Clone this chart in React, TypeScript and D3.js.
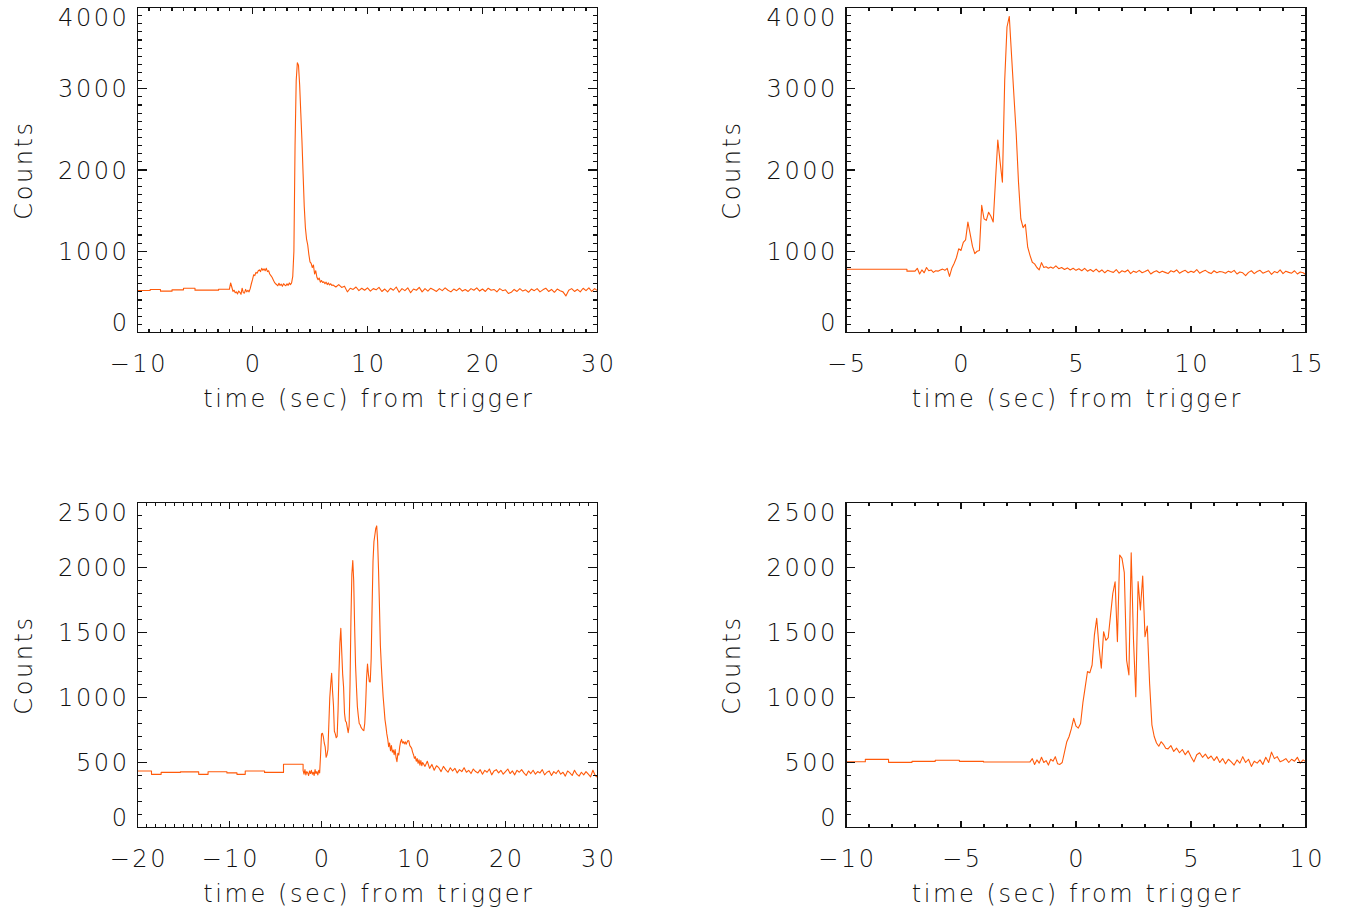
import React from "react";
import * as d3 from "d3";

const LINE_COLOR = "#ff5a0a";
const FONT = "'DejaVu Sans', 'Liberation Sans', sans-serif";

// ---------- Panel 1 (top-left) ----------
const p1XTicks = [-10, 0, 10, 20, 30];
const p1YTicks = [0, 1000, 2000, 3000, 4000];
const p1StepTimes = [-10, -8.9, -8.0, -7.0, -6.0, -5.0, -2.95, -2.0];
const p1StepCounts = [517, 530, 509, 525, 545, 521, 533];
const p1FineStart = -2.0;
const p1FineDt = 0.1;
const p1Fine = [
  540, 610, 560, 505, 520, 490, 500, 475, 510, 495,
  470, 545, 490, 485, 530, 500, 520, 500, 540, 600,
  650, 710, 700, 740, 730, 760, 770, 750, 790, 765,
  785, 760, 790, 750, 760, 720, 700, 680, 650, 620,
  600, 590, 575, 605, 580, 595, 570, 600, 585, 575,
  600, 580, 610, 590, 610, 690, 1000, 2300, 3100, 3320,
  3290, 3050, 2700, 2360, 1950, 1550, 1290, 1150, 1080, 960,
  870, 850, 800, 830, 720, 760, 680, 650, 670, 620,
  640, 615, 625, 600, 620, 590, 610, 585, 600, 580,
];
const p1TailDt = 0.25;
const p1Tail = [
  585, 560, 590, 555, 570, 500, 545, 530, 560, 515, 545, 520,
  550, 510, 540, 525, 555, 505, 535, 500, 545, 520, 560, 495,
  540, 515, 550, 490, 535, 520, 555, 500, 540, 510, 545, 525,
  505, 540, 515, 550, 520, 500, 535, 515, 545, 510, 530, 505,
  540, 520, 550, 510, 535, 505, 545, 520, 530, 500, 540, 515,
  525, 480, 495, 530, 505, 540, 510, 525, 495, 535, 515, 540,
  500, 525, 545, 505, 530, 495, 535, 515, 500, 450, 520, 540,
  505, 530, 500, 545, 515, 550, 505, 540, 515,
];

// ---------- Panel 2 (top-right) ----------
const p2XTicks = [-5, 0, 5, 10, 15];
const p2YTicks = [0, 1000, 2000, 3000, 4000];
const p2StepTimes = [-5, -2.35, -2.0];
const p2StepCounts = [779, 755];
const p2FineStart = -2.0;
const p2FineDt = 0.1;
const p2Fine = [
  755, 790, 720, 770, 735, 800, 760, 770, 740, 760,
  755, 770, 780, 765, 790, 690, 790, 850, 920, 1030,
  1010, 1110, 1140, 1360, 1210, 1060, 970, 1000, 1010, 1565,
  1400, 1380, 1480, 1430, 1360, 1870, 2370, 2100, 1850, 3100,
  3760, 3890, 3400, 2920, 2450, 1850, 1400, 1290, 1330, 1050,
  950, 865, 845, 800, 770, 860, 800, 810, 790, 805,
];
const p2TailDt = 0.125;
const p2Tail = [
  790, 820, 785, 800, 775, 795, 770, 790,
  765, 785, 760, 790, 755, 775, 750, 780,
  745, 770, 735, 765, 750, 740, 775, 730,
  760, 745, 770, 725, 755, 740, 765, 735,
  750, 770, 720, 745, 760, 735, 755, 740,
  725, 760, 745, 770, 730, 750, 765, 735,
  755, 740, 775, 730, 750, 765, 740, 725,
  760, 735, 750, 745, 730, 755, 740, 765,
  720, 745, 735, 700, 740, 760, 725, 750,
  765, 730, 745, 760, 715, 750, 735, 770,
  725, 755, 740, 730, 760, 720, 745, 735,
  710,
];

// ---------- Panel 3 (bottom-left) ----------
const p3XTicks = [-20, -10, 0, 10, 20, 30];
const p3YTicks = [0, 500, 1000, 1500, 2000, 2500];
const p3StepTimes = [-20, -18.48, -17.43, -15.34, -13.35, -12.33, -10.28, -9.19, -8.29, -6.19, -4.13, -2.0];
const p3StepCounts = [435, 409, 424, 428, 409, 429, 420, 409, 435, 424, 486];
const p3FineStart = -2.0;
const p3FineDt = 0.1;
const p3Fine = [
  440, 410, 445, 405, 430, 420, 400, 435, 415, 440,
  410, 425, 400, 445, 415, 430, 405, 440, 420, 560,
  720, 725, 698, 650, 620, 540, 560, 600, 800, 1000,
  1100, 1186, 1050, 940, 740, 720, 690, 700, 900, 1200,
  1420, 1532, 1350, 1180, 1080, 880, 820, 810, 770, 730,
  780, 1100, 1600, 1950, 2053, 1900, 1550, 1250, 1080, 930,
  860, 800, 790, 770, 760, 750, 745, 800, 950, 1150,
  1258, 1180, 1122, 1120, 1300, 1700, 2050, 2199, 2250, 2301,
  2320, 2200, 1981, 1700, 1400, 1250, 1120, 1006, 920, 830,
  780, 720, 680, 622, 650, 590, 630, 580, 596, 560,
  600, 540, 506, 570, 558, 620, 660, 678, 650, 660,
  643, 660, 640, 655, 670, 665, 630, 620, 609, 580,
  560, 532, 545, 510, 530, 494, 520, 480, 515, 475,
];
const p3TailDt = 0.25;
const p3Tail = [
  500, 470, 510, 455, 485, 440, 475, 460, 430, 470, 445, 425,
  460, 435, 455, 420, 445, 430, 460, 425, 440, 415, 450, 430,
  420, 445, 410, 440, 425, 450, 405, 435, 445, 420, 440, 410,
  430, 450, 415, 435, 405, 440, 425, 445, 420, 400, 435, 415,
  440, 410, 430, 420, 445, 405, 425, 435, 400, 430, 415, 440,
  410, 425, 395, 435, 420, 400, 440, 410, 395, 425, 405, 430,
  410, 390, 440, 400, 385,
];

// ---------- Panel 4 (bottom-right) ----------
const p4XTicks = [-10, -5, 0, 5, 10];
const p4YTicks = [0, 500, 1000, 1500, 2000, 2500];
const p4StepTimes = [-10, -9.16, -8.15, -7.13, -6.12, -5.07, -4.02, -2.0];
const p4StepCounts = [506, 524, 501, 509, 517, 509, 504];
const p4FineStart = -2.0;
const p4FineDt = 0.1;
const p4Fine = [
  505, 530, 485, 520, 495, 540, 500, 515, 480, 525,
  510, 545, 490, 485, 500, 580, 660, 700, 760, 840,
  780, 765, 800, 960, 1080, 1200, 1190, 1250, 1480, 1609,
  1390, 1225, 1506, 1440, 1460, 1630, 1800, 1890, 1430, 2096,
  2070, 1960, 1288, 1173, 2114, 1442, 1006, 1891, 1673, 1935,
  1468, 1550, 1109, 790, 700, 650, 625, 660, 640, 610,
];
const p4TailDt = 0.125;
const p4Tail = [
  605, 630, 585, 610, 575, 600, 560, 590,
  545, 505, 560, 575, 540, 565, 530, 550,
  515, 545, 500, 530, 490, 525, 505, 480,
  520, 495, 545, 500, 525, 470, 510, 495,
  520, 485, 540, 500, 580, 530, 545, 505,
  515, 530, 500, 525, 510, 540, 495, 520,
  505,
];

const X_TITLE = "time (sec) from trigger";
const Y_TITLE = "Counts";

type PanelCfg = {
  left: number; top: number; width: number; height: number;
  xTicks: number[]; xMinor: number;
  yTicks: number[]; yMinor: number;
  stepTimes: number[]; stepCounts: number[];
  fineStart: number; fineDt: number; fine: number[];
  tailDt: number; tail: number[];
};

const PW = 460;
const PH = 325;
const COL = [137.5, 846];
const ROW = [7.5, 502.5];

const panels: PanelCfg[] = [
  { left: COL[0], top: ROW[0], width: PW, height: PH, xTicks: p1XTicks, xMinor: 1, yTicks: p1YTicks, yMinor: 100,
    stepTimes: p1StepTimes, stepCounts: p1StepCounts, fineStart: p1FineStart, fineDt: p1FineDt, fine: p1Fine, tailDt: p1TailDt, tail: p1Tail },
  { left: COL[1], top: ROW[0], width: PW, height: PH, xTicks: p2XTicks, xMinor: 1, yTicks: p2YTicks, yMinor: 100,
    stepTimes: p2StepTimes, stepCounts: p2StepCounts, fineStart: p2FineStart, fineDt: p2FineDt, fine: p2Fine, tailDt: p2TailDt, tail: p2Tail },
  { left: COL[0], top: ROW[1], width: PW, height: PH, xTicks: p3XTicks, xMinor: 1, yTicks: p3YTicks, yMinor: 100,
    stepTimes: p3StepTimes, stepCounts: p3StepCounts, fineStart: p3FineStart, fineDt: p3FineDt, fine: p3Fine, tailDt: p3TailDt, tail: p3Tail },
  { left: COL[1], top: ROW[1], width: PW, height: PH, xTicks: p4XTicks, xMinor: 1, yTicks: p4YTicks, yMinor: 100,
    stepTimes: p4StepTimes, stepCounts: p4StepCounts, fineStart: p4FineStart, fineDt: p4FineDt, fine: p4Fine, tailDt: p4TailDt, tail: p4Tail },
];

function buildSeries(c: PanelCfg): [number, number][] {
  const pts: [number, number][] = [];
  for (let i = 0; i < c.stepCounts.length; i++) {
    pts.push([c.stepTimes[i], c.stepCounts[i]]);
    pts.push([c.stepTimes[i + 1], c.stepCounts[i]]);
  }
  c.fine.forEach((v, i) => pts.push([c.fineStart + i * c.fineDt, v]));
  const tailStart = c.fineStart + c.fine.length * c.fineDt;
  c.tail.forEach((v, i) => pts.push([tailStart + i * c.tailDt, v]));
  return pts;
}

const fmt = (n: number) => (n < 0 ? "\u2212" + Math.abs(n) : String(n));

const textStyle: React.CSSProperties = {
  fontFamily: FONT,
  fontWeight: 200,
  fontSize: 24,
  letterSpacing: "2.6px",
};

function Panel({ c }: { c: PanelCfg }) {
  const x0 = c.xTicks[0];
  const x1 = c.xTicks[c.xTicks.length - 1];
  const y0 = c.yTicks[0];
  const y1 = c.yTicks[c.yTicks.length - 1];
  const x = d3.scaleLinear().domain([x0, x1]).range([c.left, c.left + c.width]);
  const y = d3.scaleLinear().domain([y0, y1]).range([c.top + c.height, c.top]);
  const pts = buildSeries(c);
  const line = d3.line<[number, number]>().x((d) => x(d[0])).y((d) => y(d[1]));
  const bottom = c.top + c.height;
  const right = c.left + c.width;

  const xMajLen = 0.02 * c.height;
  const yMajLen = 0.02 * c.width;
  const xMinors = d3.range(x0, x1 + 1e-9, c.xMinor);
  const yMinors = d3.range(y0, y1 + 1e-9, c.yMinor);

  const tickEls: JSX.Element[] = [];
  xMinors.forEach((v, i) => {
    const px = x(v);
    const isMaj = c.xTicks.some((t) => Math.abs(t - v) < 1e-6);
    const L = isMaj ? xMajLen : xMajLen / 2;
    tickEls.push(<line key={"xb" + i} x1={px} x2={px} y1={bottom} y2={bottom - L} />);
    tickEls.push(<line key={"xt" + i} x1={px} x2={px} y1={c.top} y2={c.top + L} />);
  });
  yMinors.forEach((v, i) => {
    const py = y(v);
    const isMaj = c.yTicks.some((t) => Math.abs(t - v) < 1e-6);
    const L = isMaj ? yMajLen : yMajLen / 2;
    tickEls.push(<line key={"yl" + i} x1={c.left} x2={c.left + L} y1={py} y2={py} />);
    tickEls.push(<line key={"yr" + i} x1={right} x2={right - L} y1={py} y2={py} />);
  });

  return (
    <g>
      <path d={line(pts) || ""} fill="none" stroke={LINE_COLOR} strokeWidth={1.1} strokeLinejoin="round" />
      <g stroke="#111" strokeWidth={1.1} shapeRendering="crispEdges">
        {tickEls}
        <rect x={c.left} y={c.top} width={c.width} height={c.height} fill="none" strokeWidth={1.4} />
      </g>
      <g style={textStyle} fill="#111">
        {c.xTicks.map((t) => (
          <text key={"xl" + t} x={x(t) + 1.3} y={bottom + 39.5} textAnchor="middle">
            {fmt(t)}
          </text>
        ))}
        {c.yTicks.map((t, i) => {
          let py = y(t);
          if (i === 0) py -= 10;
          if (i === c.yTicks.length - 1) py += 10;
          return (
            <text key={"yl" + t} x={c.left - 8} y={py + 8.5} textAnchor="end">
              {fmt(t)}
            </text>
          );
        })}
        <text x={c.left + c.width / 2 + 1.3} y={bottom + 74.5} textAnchor="middle">
          {X_TITLE}
        </text>
        <text
          transform={`translate(${c.left - 106},${c.top + c.height / 2}) rotate(-90)`}
          textAnchor="middle"
        >
          {Y_TITLE}
        </text>
      </g>
    </g>
  );
}

export default function App() {
  return (
    <svg
      width={1348}
      height={913}
      viewBox="0 0 1348 913"
      style={{ position: "absolute", left: 0, top: 0, background: "#fff" }}
    >
      <rect x={0} y={0} width={1348} height={913} fill="#fff" />
      {panels.map((c, i) => (
        <Panel key={i} c={c} />
      ))}
    </svg>
  );
}
